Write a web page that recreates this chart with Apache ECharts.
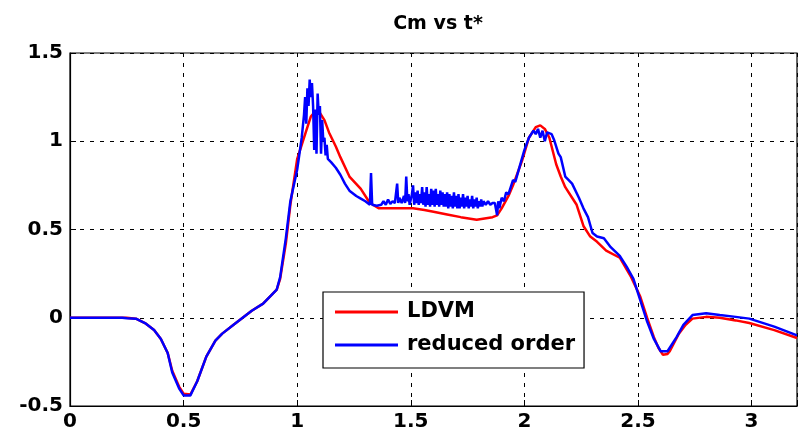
<!DOCTYPE html>
<html>
<head>
<meta charset="utf-8">
<script src="https://cdn.jsdelivr.net/npm/echarts@6/dist/echarts.min.js"></script>
<style>html,body{margin:0;padding:0;background:#fff;}#c{width:808px;height:441px;}</style>
</head>
<body>
<div id="c"></div>
<script>
var titleText = 'Cm vs t*';
var xTicks = [0, 0.5, 1, 1.5, 2, 2.5, 3];
var yTicks = [-0.5, 0, 0.5, 1, 1.5];

var ldvmT = [0, 0.1, 0.2, 0.25, 0.29, 0.33, 0.37, 0.40, 0.43, 0.45, 0.48, 0.50, 0.53, 0.56, 0.60, 0.64, 0.67, 0.72, 0.76, 0.80, 0.85, 0.91, 0.925, 0.95, 0.97, 1.0, 1.02, 1.04, 1.06, 1.08, 1.10, 1.12, 1.14, 1.17, 1.19, 1.23, 1.28, 1.32, 1.36, 1.40, 1.45, 1.51, 1.56, 1.60, 1.66, 1.72, 1.79, 1.86, 1.88, 1.90, 1.93, 1.95, 1.97, 1.99, 2.02, 2.05, 2.07, 2.09, 2.11, 2.14, 2.16, 2.18, 2.21, 2.23, 2.26, 2.29, 2.32, 2.36, 2.42, 2.47, 2.51, 2.54, 2.57, 2.59, 2.61, 2.63, 2.64, 2.66, 2.68, 2.71, 2.74, 2.80, 2.86, 2.93, 2.99, 3.1, 3.2];
var ldvmCm = [0, 0, 0, 0, -0.005, -0.03, -0.07, -0.12, -0.2, -0.3, -0.39, -0.43, -0.435, -0.36, -0.22, -0.13, -0.09, -0.04, 0.0, 0.04, 0.08, 0.16, 0.22, 0.42, 0.64, 0.90, 0.98, 1.06, 1.14, 1.17, 1.16, 1.12, 1.05, 0.97, 0.91, 0.80, 0.73, 0.65, 0.62, 0.62, 0.62, 0.62, 0.61, 0.60, 0.585, 0.57, 0.555, 0.57, 0.58, 0.62, 0.69, 0.75, 0.82, 0.89, 1.02, 1.08, 1.09, 1.07, 1.02, 0.87, 0.80, 0.74, 0.68, 0.64, 0.52, 0.46, 0.43, 0.38, 0.34, 0.23, 0.12, 0.0, -0.11, -0.17, -0.21, -0.205, -0.19, -0.14, -0.09, -0.04, -0.005, 0.005, 0.0, -0.015, -0.03, -0.07, -0.115];

var roT = [0, 0.2, 0.23, 0.25, 0.29, 0.33, 0.37, 0.40, 0.43, 0.45, 0.48, 0.50, 0.53, 0.56, 0.60, 0.64, 0.67, 0.72, 0.76, 0.80, 0.85, 0.91, 0.925, 0.95, 0.97, 1.0, 1.02, 1.03, 1.035, 1.04, 1.045, 1.05, 1.055, 1.06, 1.065, 1.07, 1.075, 1.08, 1.085, 1.09, 1.095, 1.10, 1.105, 1.11, 1.115, 1.12, 1.125, 1.13, 1.135, 1.15, 1.17, 1.19, 1.21, 1.23, 1.26, 1.28, 1.30, 1.31, 1.32, 1.325, 1.33, 1.335, 1.35, 1.37, 1.38, 1.39, 1.40, 1.41, 1.42, 1.43, 1.44, 1.445, 1.45, 1.46, 1.47, 1.475, 1.48, 1.485, 1.49, 1.495,
  1.50, 1.505, 1.51, 1.515, 1.52, 1.525, 1.53, 1.535, 1.54, 1.545, 1.55, 1.555, 1.56, 1.565, 1.57, 1.575, 1.58, 1.585, 1.59, 1.595, 1.60, 1.605, 1.61, 1.615, 1.62, 1.625, 1.63, 1.635, 1.64, 1.645, 1.65, 1.655, 1.66, 1.665, 1.67, 1.675, 1.68, 1.685, 1.69, 1.695, 1.70, 1.705, 1.71, 1.715, 1.72, 1.725, 1.73, 1.735, 1.74, 1.745, 1.75, 1.755, 1.76, 1.765, 1.77, 1.775, 1.78, 1.785, 1.79, 1.795, 1.80, 1.805, 1.81, 1.815, 1.82, 1.83, 1.84, 1.85, 1.86, 1.87,
  1.88, 1.885, 1.89, 1.90, 1.91, 1.92, 1.93, 1.95, 1.96, 1.98, 2.0, 2.02, 2.04, 2.05, 2.06, 2.07, 2.08, 2.09, 2.10, 2.12, 2.13, 2.15, 2.16, 2.18, 2.21, 2.24, 2.26, 2.28, 2.30, 2.32, 2.35, 2.38, 2.42, 2.45, 2.48, 2.51, 2.54, 2.57, 2.60, 2.63, 2.65, 2.67, 2.70, 2.74, 2.80, 2.86, 2.93, 2.99, 3.1, 3.2];
var roCm = [0, 0, 0, -0.003, -0.005, -0.03, -0.07, -0.12, -0.2, -0.31, -0.40, -0.44, -0.44, -0.36, -0.22, -0.13, -0.09, -0.04, 0.0, 0.04, 0.08, 0.16, 0.23, 0.45, 0.66, 0.84, 1.02, 1.15, 1.25, 1.10, 1.30, 1.20, 1.35, 1.25, 1.33, 1.20, 0.95, 1.18, 0.93, 1.27, 1.15, 1.20, 0.93, 1.12, 1.00, 1.02, 0.92, 0.98, 0.90, 0.88, 0.85, 0.81, 0.76, 0.72, 0.69, 0.675, 0.66, 0.65, 0.64, 0.82, 0.64, 0.63, 0.635, 0.64, 0.66, 0.64, 0.67, 0.645, 0.66, 0.65, 0.76, 0.65, 0.68, 0.65, 0.69, 0.65, 0.80, 0.66, 0.70, 0.64,
  0.65, 0.70, 0.75, 0.64, 0.71, 0.65, 0.72, 0.64, 0.70, 0.65, 0.74, 0.64, 0.71, 0.63, 0.74, 0.64, 0.70, 0.63, 0.73, 0.64, 0.72, 0.63, 0.73, 0.64, 0.70, 0.63, 0.72, 0.64, 0.71, 0.63, 0.70, 0.63, 0.71, 0.62, 0.70, 0.63, 0.69, 0.62, 0.71, 0.63, 0.69, 0.62, 0.70, 0.62, 0.68, 0.63, 0.70, 0.62, 0.68, 0.63, 0.69, 0.62, 0.67, 0.63, 0.69, 0.62, 0.67, 0.63, 0.68, 0.62, 0.66, 0.63, 0.67, 0.63, 0.66, 0.64, 0.66, 0.64, 0.65, 0.65,
  0.58, 0.66, 0.62, 0.68, 0.66, 0.71, 0.70, 0.78, 0.77, 0.86, 0.95, 1.02, 1.06, 1.04, 1.07, 1.02, 1.06, 1.00, 1.05, 1.04, 1.01, 0.93, 0.91, 0.80, 0.76, 0.68, 0.62, 0.57, 0.48, 0.46, 0.45, 0.40, 0.35, 0.29, 0.22, 0.10, -0.02, -0.12, -0.19, -0.19, -0.15, -0.11, -0.04, 0.015, 0.025, 0.015, 0.005, -0.005, -0.05, -0.10];

function pairs(t, v) { return t.map(function (x, i) { return [x, v[i]]; }); }

var FONT = 'DejaVu Sans, Verdana, sans-serif';
var chart = echarts.init(document.getElementById('c'), null, { renderer: 'canvas' });
chart.setOption({
  animation: false,
  backgroundColor: '#ffffff',
  title: {
    text: titleText, left: 433, top: 10, textAlign: 'center',
    textStyle: { fontFamily: FONT, fontWeight: 'bold', fontSize: 19, color: '#000' }
  },
  grid: { left: 70, right: 11, top: 53, bottom: 35, show: true, borderColor: '#000', borderWidth: 1.2, backgroundColor: 'transparent' },
  xAxis: {
    type: 'value', min: 0, max: 3.2, interval: 0.5,
    axisLine: { show: true, onZero: false, lineStyle: { color: '#000', width: 1.2 } },
    axisTick: { show: true, inside: true, length: 6, lineStyle: { color: '#000' } },
    axisLabel: { color: '#000', fontFamily: FONT, fontWeight: 'bold', fontSize: 20, margin: 6,
      formatter: function (v) { return xTicks.indexOf(v) >= 0 ? String(v) : ''; } },
    splitLine: { show: true, lineStyle: { color: '#000', type: [4, 6], width: 1 } }
  },
  yAxis: {
    type: 'value', min: -0.5, max: 1.5, interval: 0.5,
    axisLine: { show: true, onZero: false, lineStyle: { color: '#000', width: 1.2 } },
    axisTick: { show: true, inside: true, length: 6, lineStyle: { color: '#000' } },
    axisLabel: { color: '#000', fontFamily: FONT, fontWeight: 'bold', fontSize: 20, margin: 7,
      formatter: function (v) { return yTicks.indexOf(v) >= 0 ? String(v) : ''; } },
    splitLine: { show: true, lineStyle: { color: '#000', type: [4, 6], width: 1 } }
  },
  legend: {
    orient: 'vertical', left: 323, top: 292,
    backgroundColor: '#fff', borderColor: '#000', borderWidth: 1.2,
    padding: [9, 9, 12, 12], itemGap: 11,
    itemWidth: 63, itemHeight: 3, icon: 'rect',
    textStyle: { fontFamily: FONT, fontWeight: 'bold', fontSize: 21, lineHeight: 22, color: '#000', padding: [0, 0, 0, 4] },
    data: ['LDVM', 'reduced order']
  },
  series: [
    { name: 'LDVM', type: 'line', data: pairs(ldvmT, ldvmCm), showSymbol: false, symbol: 'none',
      lineStyle: { color: '#ff0000', width: 2.5 }, itemStyle: { color: '#ff0000' }, z: 2 },
    { name: 'reduced order', type: 'line', data: pairs(roT, roCm), showSymbol: false, symbol: 'none',
      lineStyle: { color: '#0000ff', width: 2.5 }, itemStyle: { color: '#0000ff' }, z: 3 }
  ]
});
</script>
</body>
</html>
